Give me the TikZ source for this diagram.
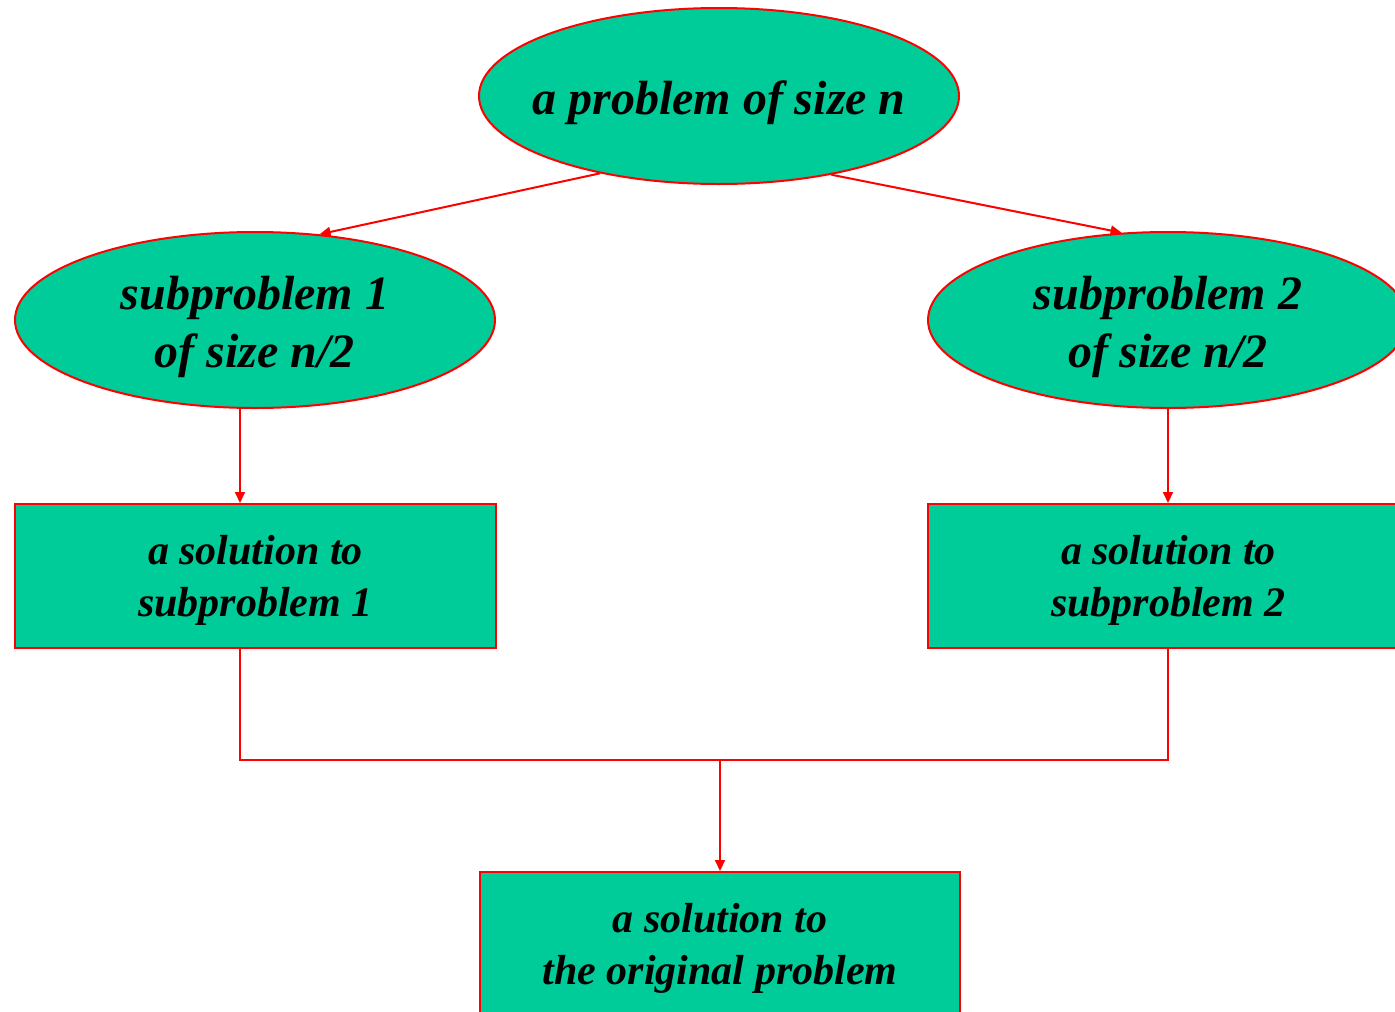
\documentclass[tikz,border=0pt]{standalone}
\usepackage{fontspec}
\setmainfont{Liberation Serif}
\usetikzlibrary{shapes.geometric,arrows.meta}
\definecolor{nodefill}{HTML}{00CC99}
\definecolor{edgered}{HTML}{FF0000}
\tikzset{
  blob/.style={ellipse, draw=edgered, fill=nodefill, line width=2pt,
    minimum width=480pt, minimum height=176pt, inner sep=0pt, align=center,
    text depth=0pt, font=\fontsize{48}{58}\selectfont\bfseries\itshape},
  sbox/.style={rectangle, draw=edgered, fill=nodefill, line width=2pt,
    minimum width=481pt, minimum height=144pt, inner sep=0pt, align=center,
    text depth=0pt, font=\fontsize{42}{52}\selectfont\bfseries\itshape},
  link/.style={draw=edgered, line width=2pt},
  arr/.style={link, -{Triangle[length=11pt,width=10pt]}}
}
\begin{document}
\begin{tikzpicture}[x=1pt,y=-1pt]
\useasboundingbox (0,0) rectangle (1395,1012);
\node[blob] (top) at (719,96) {\makebox[0pt]{\raisebox{-4pt}{a problem of size n}}};
\node[blob] (l1) at (255,320) {\raisebox{-3pt}{subproblem 1}\\\raisebox{-3pt}{of size n/2}};
\node[blob] (r1) at (1168,320) {\raisebox{-3pt}{subproblem 2}\\\raisebox{-3pt}{of size n/2}};
\node[sbox] (s1) at (255.5,576) {a solution to\\subproblem 1};
\node[sbox] (s2) at (1168.5,576) {a solution to\\subproblem 2};
\node[sbox, minimum width=480pt] (s0) at (720,944) {a solution to\\the original problem};
\coordinate (jl) at (240,760);
\coordinate (jr) at (1168,760);
\coordinate (jm) at (720,760);
\draw[arr] (top.213) -- (l1.53.5);
\draw[arr] (top.-35) -- (r1.118.6);
\draw[arr] ([xshift=-15pt]l1.south) -- ([xshift=-15.5pt]s1.north);
\draw[arr] (r1.south) -- (r1.south |- s2.north);
\draw[link] ([xshift=-15.5pt]s1.south) -- (jl) -- (jr) -- (jr |- s2.south);
\draw[arr] (jm) -- (s0.north);
\end{tikzpicture}
\end{document}
